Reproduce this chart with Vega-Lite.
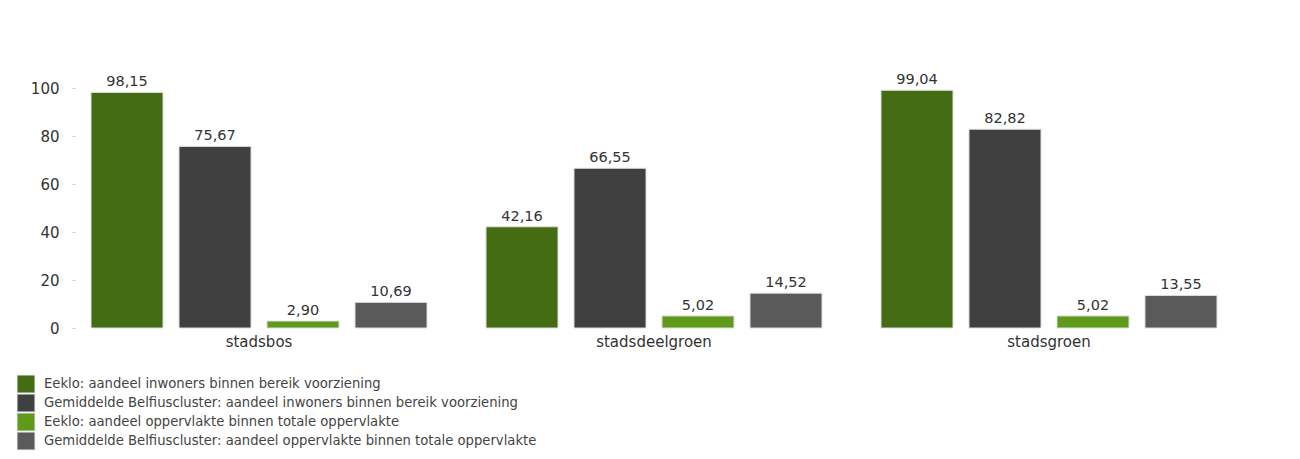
{
  "$schema": "https://vega.github.io/schema/vega-lite/v6.json",
  "width": 1158,
  "height": 264,
  "autosize": {"type": "none"},
  "padding": {"left": 75, "top": 64, "right": 67, "bottom": 131},
  "background": "white",
  "config": {
    "locale": {"number": {"decimal": ",", "thousands": ".", "grouping": [3], "currency": ["€", ""]}},
    "view": {"stroke": null},
    "font": "DejaVu Sans"
  },
  "data": {
    "values": [
      {"categorie": "stadsbos", "reeks": "Eeklo: aandeel inwoners binnen bereik voorziening", "volgorde": 1, "waarde": 98.15},
      {"categorie": "stadsbos", "reeks": "Gemiddelde Belfiuscluster: aandeel inwoners binnen bereik voorziening", "volgorde": 2, "waarde": 75.67},
      {"categorie": "stadsbos", "reeks": "Eeklo: aandeel oppervlakte binnen totale oppervlakte", "volgorde": 3, "waarde": 2.90},
      {"categorie": "stadsbos", "reeks": "Gemiddelde Belfiuscluster: aandeel oppervlakte binnen totale oppervlakte", "volgorde": 4, "waarde": 10.69},
      {"categorie": "stadsdeelgroen", "reeks": "Eeklo: aandeel inwoners binnen bereik voorziening", "volgorde": 1, "waarde": 42.16},
      {"categorie": "stadsdeelgroen", "reeks": "Gemiddelde Belfiuscluster: aandeel inwoners binnen bereik voorziening", "volgorde": 2, "waarde": 66.55},
      {"categorie": "stadsdeelgroen", "reeks": "Eeklo: aandeel oppervlakte binnen totale oppervlakte", "volgorde": 3, "waarde": 5.02},
      {"categorie": "stadsdeelgroen", "reeks": "Gemiddelde Belfiuscluster: aandeel oppervlakte binnen totale oppervlakte", "volgorde": 4, "waarde": 14.52},
      {"categorie": "stadsgroen", "reeks": "Eeklo: aandeel inwoners binnen bereik voorziening", "volgorde": 1, "waarde": 99.04},
      {"categorie": "stadsgroen", "reeks": "Gemiddelde Belfiuscluster: aandeel inwoners binnen bereik voorziening", "volgorde": 2, "waarde": 82.82},
      {"categorie": "stadsgroen", "reeks": "Eeklo: aandeel oppervlakte binnen totale oppervlakte", "volgorde": 3, "waarde": 5.02},
      {"categorie": "stadsgroen", "reeks": "Gemiddelde Belfiuscluster: aandeel oppervlakte binnen totale oppervlakte", "volgorde": 4, "waarde": 13.55}
    ]
  },
  "encoding": {
    "x": {
      "field": "categorie", "type": "nominal", "title": null,
      "sort": ["stadsbos", "stadsdeelgroen", "stadsgroen"],
      "scale": {"paddingInner": 0.1089, "paddingOuter": 0.0203},
      "axis": {"labelAngle": 0, "domain": false, "ticks": false, "labelFont": "DejaVu Sans", "labelFontSize": 15, "labelColor": "#333333", "labelPadding": 6}
    },
    "xOffset": {
      "field": "reeks", "type": "nominal",
      "sort": {"field": "volgorde"},
      "scale": {"paddingInner": 0.1818, "paddingOuter": 0.0909}
    },
    "y": {
      "field": "waarde", "type": "quantitative", "title": null,
      "scale": {"domain": [0, 110], "nice": false},
      "axis": {"values": [0, 20, 40, 60, 80, 100], "format": "d", "domain": false, "grid": false, "tickSize": 3, "tickColor": "#cccccc", "labelFont": "DejaVu Sans", "labelFontSize": 15, "labelColor": "#333333", "labelPadding": 13}
    }
  },
  "layer": [
    {
      "mark": {"type": "bar", "stroke": "#dddddd", "strokeWidth": 1},
      "encoding": {
        "color": {
          "field": "reeks", "type": "nominal", "title": null,
          "sort": {"field": "volgorde"},
          "scale": {
            "domain": [
              "Eeklo: aandeel inwoners binnen bereik voorziening",
              "Gemiddelde Belfiuscluster: aandeel inwoners binnen bereik voorziening",
              "Eeklo: aandeel oppervlakte binnen totale oppervlakte",
              "Gemiddelde Belfiuscluster: aandeel oppervlakte binnen totale oppervlakte"
            ],
            "range": ["#446c12", "#404040", "#5f9a1b", "#5a5a5a"]
          },
          "legend": {
            "orient": "none", "legendX": -58, "legendY": 311,
            "direction": "vertical",
            "symbolType": "square", "symbolSize": 300, "symbolStrokeColor": "#bbbbbb", "symbolStrokeWidth": 0.5,
            "rowPadding": -6, "labelOffset": 9,
            "labelFont": "DejaVu Sans", "labelFontSize": 13.2, "labelColor": "#444444", "labelLimit": 700
          }
        }
      }
    },
    {
      "mark": {"type": "text", "baseline": "alphabetic", "dy": -6, "font": "DejaVu Sans", "fontSize": 14.5, "color": "#333333"},
      "encoding": {
        "text": {"field": "waarde", "type": "quantitative", "format": ".2f"}
      }
    }
  ]
}
